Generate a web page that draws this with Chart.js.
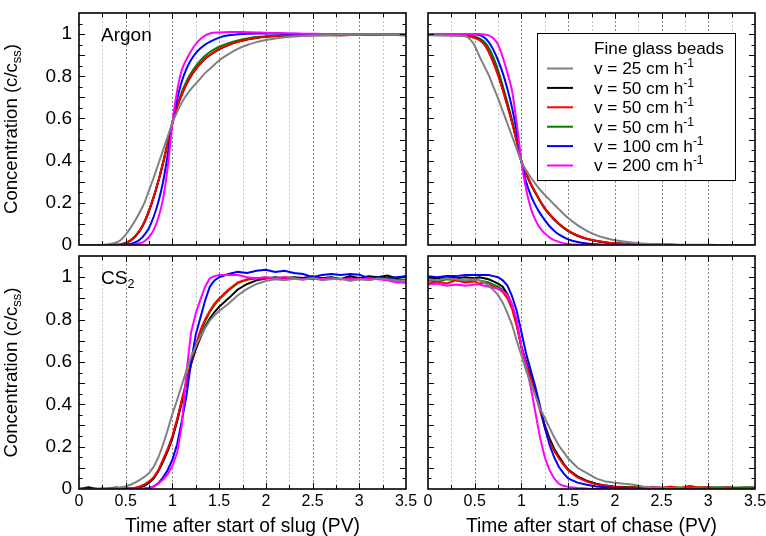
<!DOCTYPE html>
<html>
<head>
<meta charset="utf-8">
<script src="https://cdn.jsdelivr.net/npm/chart.js@4.4.1/dist/chart.umd.min.js"></script>
<style>
  html, body { margin: 0; padding: 0; background: #fff; }
  #wrap { position: relative; width: 766px; height: 536px; overflow: hidden; }
  #wrap canvas { position: absolute; left: 0; top: 0; }
</style>
</head>
<body>
<div id="wrap">
  <canvas id="tl" width="766" height="536"></canvas>
  <canvas id="tr" width="766" height="536"></canvas>
  <canvas id="bl" width="766" height="536"></canvas>
  <canvas id="br" width="766" height="536"></canvas>
</div>
<script>
// x positions (pore volumes) for the argon and CS2 curves
const argonX = [0, 0.2, 0.3, 0.4, 0.45, 0.5, 0.55, 0.6, 0.65, 0.7, 0.75, 0.8, 0.85, 0.9, 0.95, 1.0, 1.05, 1.1, 1.15, 1.2, 1.25, 1.3, 1.35, 1.4, 1.5, 1.6, 1.7, 1.8, 1.9, 2.0, 2.2, 2.4, 2.6, 2.8, 3.0, 3.2, 3.5];
const cs2X = [0, 0.1, 0.2, 0.3, 0.4, 0.5, 0.55, 0.6, 0.65, 0.7, 0.75, 0.8, 0.85, 0.9, 0.95, 1.0, 1.05, 1.1, 1.15, 1.2, 1.25, 1.3, 1.35, 1.4, 1.45, 1.5, 1.6, 1.7, 1.8, 1.9, 2.0, 2.1, 2.2, 2.3, 2.4, 2.5, 2.6, 2.7, 2.8, 2.9, 3.0, 3.1, 3.2, 3.3, 3.4, 3.5];

// pore water velocities (cm/h), legend order
const speeds = [25, 50, 50, 50, 100, 200];

// Argon, slug
const argonSlug25  = [0, 0, 0.002, 0.012, 0.025, 0.05, 0.08, 0.115, 0.155, 0.2, 0.26, 0.32, 0.385, 0.45, 0.515, 0.58, 0.63, 0.675, 0.71, 0.74, 0.765, 0.79, 0.815, 0.835, 0.875, 0.905, 0.93, 0.948, 0.962, 0.972, 0.985, 0.991, 0.995, 0.997, 0.997, 0.998, 0.996];
const argonSlug50a = [0, 0, 0, 0.001, 0.003, 0.01, 0.021, 0.04, 0.068, 0.108, 0.163, 0.228, 0.303, 0.388, 0.483, 0.578, 0.652, 0.712, 0.762, 0.802, 0.833, 0.86, 0.883, 0.9, 0.928, 0.948, 0.963, 0.974, 0.982, 0.987, 0.992, 0.994, 0.995, 0.995, 0.996, 0.996, 0.995];
const argonSlug50b = [0, 0, 0, 0.001, 0.003, 0.01, 0.022, 0.042, 0.07, 0.11, 0.165, 0.23, 0.305, 0.39, 0.485, 0.58, 0.655, 0.715, 0.765, 0.805, 0.835, 0.862, 0.885, 0.902, 0.93, 0.95, 0.964, 0.975, 0.983, 0.988, 0.993, 0.995, 0.996, 0.995, 0.996, 0.997, 0.995];
const argonSlug50c = [0, 0, 0, 0.001, 0.003, 0.01, 0.02, 0.04, 0.068, 0.108, 0.163, 0.228, 0.305, 0.392, 0.488, 0.582, 0.66, 0.725, 0.775, 0.815, 0.848, 0.875, 0.897, 0.915, 0.94, 0.957, 0.97, 0.979, 0.986, 0.99, 0.994, 0.996, 0.997, 0.997, 0.998, 0.998, 0.997];
const argonSlug100 = [0, 0, 0, 0, 0.001, 0.002, 0.005, 0.012, 0.025, 0.048, 0.082, 0.135, 0.205, 0.3, 0.43, 0.58, 0.69, 0.775, 0.835, 0.878, 0.91, 0.933, 0.95, 0.963, 0.983, 0.994, 0.999, 1.002, 1.003, 1.003, 1.002, 1.001, 1.0, 1.0, 1.0, 1.0, 1.0];
const argonSlug200 = [0, 0, 0, 0, 0, 0, 0.001, 0.003, 0.008, 0.018, 0.038, 0.072, 0.13, 0.22, 0.37, 0.58, 0.73, 0.83, 0.88, 0.92, 0.953, 0.977, 0.993, 1.003, 1.008, 1.01, 1.01, 1.009, 1.008, 1.006, 1.004, 1.002, 1.001, 1.0, 1.0, 1.0, 1.0];

// Argon, chase
const argonChase25  = [0.995, 0.993, 0.992, 0.99, 0.975, 0.945, 0.895, 0.85, 0.805, 0.75, 0.695, 0.635, 0.575, 0.515, 0.455, 0.395, 0.355, 0.32, 0.29, 0.262, 0.237, 0.215, 0.192, 0.17, 0.128, 0.094, 0.067, 0.047, 0.033, 0.023, 0.011, 0.005, 0.002, 0.001, 0.001, 0, 0];
const argonChase50a = [0.998, 0.996, 0.995, 0.993, 0.989, 0.983, 0.973, 0.953, 0.917, 0.867, 0.807, 0.737, 0.662, 0.582, 0.492, 0.396, 0.34, 0.29, 0.249, 0.209, 0.174, 0.146, 0.122, 0.101, 0.067, 0.044, 0.029, 0.019, 0.012, 0.008, 0.004, 0.002, 0.001, 0, 0, 0, 0];
const argonChase50b = [0.998, 0.995, 0.995, 0.992, 0.988, 0.982, 0.972, 0.952, 0.915, 0.865, 0.805, 0.735, 0.66, 0.58, 0.49, 0.395, 0.34, 0.29, 0.25, 0.21, 0.175, 0.147, 0.123, 0.102, 0.068, 0.045, 0.03, 0.02, 0.013, 0.008, 0.004, 0.002, 0.001, 0, 0, 0, 0];
const argonChase50c = [0.998, 0.997, 0.996, 0.994, 0.991, 0.987, 0.98, 0.965, 0.935, 0.89, 0.83, 0.755, 0.675, 0.59, 0.495, 0.397, 0.338, 0.288, 0.246, 0.207, 0.172, 0.144, 0.12, 0.1, 0.066, 0.044, 0.029, 0.019, 0.012, 0.008, 0.004, 0.002, 0.001, 0, 0, 0, 0];
const argonChase100 = [1.0, 1.0, 1.0, 1.0, 0.999, 0.998, 0.995, 0.985, 0.962, 0.925, 0.875, 0.815, 0.74, 0.65, 0.535, 0.395, 0.3, 0.235, 0.188, 0.15, 0.118, 0.09, 0.068, 0.05, 0.027, 0.014, 0.007, 0.003, 0.001, 0, 0, 0, 0, 0, 0, 0, 0];
const argonChase200 = [1.0, 1.0, 1.0, 1.0, 1.0, 1.0, 1.0, 0.998, 0.994, 0.98, 0.95, 0.89, 0.815, 0.73, 0.575, 0.395, 0.265, 0.175, 0.118, 0.08, 0.055, 0.036, 0.023, 0.015, 0.005, 0.001, 0, 0, 0, 0, 0, 0, 0, 0, 0, 0, 0];

// CS2, slug
const cs2Slug25  = [0, 0, 0.002, 0.003, 0.005, 0.012, 0.02, 0.03, 0.043, 0.057, 0.075, 0.105, 0.15, 0.21, 0.28, 0.355, 0.42, 0.49, 0.56, 0.625, 0.675, 0.72, 0.76, 0.795, 0.82, 0.84, 0.875, 0.915, 0.945, 0.968, 0.982, 0.99, 0.985, 0.992, 0.988, 0.996, 0.985, 0.99, 0.994, 0.982, 0.99, 0.986, 0.994, 0.99, 0.984, 0.98];
const cs2Slug50a = [0, 0.008, 0, 0.002, 0.007, 0.001, 0.002, 0.004, 0.008, 0.015, 0.03, 0.05, 0.085, 0.13, 0.18, 0.24, 0.32, 0.41, 0.5, 0.59, 0.66, 0.715, 0.765, 0.805, 0.835, 0.86, 0.9, 0.942, 0.968, 0.985, 0.994, 1.0, 0.995, 1.0, 0.996, 1.004, 0.995, 1.0, 0.99, 1.005, 0.995, 1.004, 1.0, 1.008, 0.995, 1.004];
const cs2Slug50b = [0, 0, 0, 0, 0.001, 0.002, 0.003, 0.006, 0.012, 0.022, 0.036, 0.056, 0.09, 0.14, 0.19, 0.25, 0.33, 0.42, 0.51, 0.6, 0.68, 0.75, 0.8, 0.842, 0.875, 0.9, 0.942, 0.975, 0.99, 0.995, 0.998, 0.992, 1.0, 0.995, 0.99, 0.998, 0.992, 0.996, 0.99, 0.994, 0.992, 0.988, 0.994, 0.99, 0.984, 0.972];
const cs2Slug50c = [0, 0, 0, 0, 0.001, 0.002, 0.003, 0.005, 0.01, 0.019, 0.033, 0.053, 0.087, 0.135, 0.186, 0.247, 0.325, 0.415, 0.505, 0.593, 0.67, 0.738, 0.79, 0.835, 0.868, 0.895, 0.937, 0.972, 0.988, 0.995, 0.997, 0.994, 0.998, 0.992, 0.996, 0.99, 0.995, 0.998, 0.992, 0.996, 0.99, 0.995, 0.992, 0.996, 0.99, 0.988];
const cs2Slug100 = [0, 0, 0, 0, 0, 0, 0, 0, 0.001, 0.002, 0.005, 0.012, 0.028, 0.055, 0.09, 0.14, 0.21, 0.32, 0.44, 0.6, 0.73, 0.81, 0.89, 0.955, 0.985, 1.0, 1.015, 1.025, 1.02, 1.03, 1.035, 1.025, 1.03, 1.02, 1.015, 1.0, 1.01, 1.015, 1.01, 1.015, 1.012, 0.995, 1.0, 0.995, 1.0, 1.005];
const cs2Slug200 = [0.003, 0, 0, 0, 0, 0, 0, 0, 0.001, 0.002, 0.005, 0.012, 0.025, 0.045, 0.07, 0.11, 0.17, 0.3, 0.55, 0.74, 0.83, 0.895, 0.955, 0.995, 1.005, 1.01, 1.01, 1.01, 1.0, 0.995, 1.0, 0.995, 1.0, 0.995, 0.99, 0.995, 0.99, 0.995, 0.99, 0.992, 0.99, 0.995, 0.99, 0.985, 0.975, 0.975];

// CS2, chase
const cs2Chase25  = [0.99, 0.985, 0.995, 0.99, 0.985, 0.99, 0.985, 0.975, 0.96, 0.94, 0.915, 0.88, 0.83, 0.775, 0.7, 0.63, 0.56, 0.5, 0.44, 0.38, 0.335, 0.29, 0.245, 0.205, 0.175, 0.145, 0.1, 0.075, 0.05, 0.035, 0.03, 0.025, 0.02, 0.012, 0.008, 0.006, 0.004, 0.003, 0.002, 0.002, 0.001, 0.001, 0.001, 0, 0, 0];
const cs2Chase50a = [0.99, 0.995, 1.0, 0.995, 1.0, 0.995, 1.0, 0.995, 0.99, 0.98, 0.97, 0.955, 0.92, 0.87, 0.78, 0.67, 0.6, 0.53, 0.46, 0.38, 0.3, 0.24, 0.19, 0.155, 0.12, 0.092, 0.06, 0.038, 0.025, 0.016, 0.01, 0.008, 0.006, 0.005, 0.004, 0.005, 0.003, 0.004, 0.002, 0.003, 0.002, 0.003, 0.002, 0.002, 0.001, 0.002];
const cs2Chase50b = [0.97, 0.98, 0.97, 0.985, 0.975, 0.98, 0.97, 0.975, 0.965, 0.955, 0.945, 0.93, 0.9, 0.85, 0.77, 0.67, 0.59, 0.52, 0.45, 0.37, 0.29, 0.225, 0.18, 0.145, 0.115, 0.088, 0.055, 0.035, 0.022, 0.015, 0.01, 0.006, 0.008, 0.004, 0.01, 0.005, 0.012, 0.004, 0.015, 0.006, 0.01, 0.004, 0.008, 0.003, 0.006, 0.004];
const cs2Chase50c = [0.985, 0.98, 0.99, 0.985, 0.98, 0.99, 0.985, 0.98, 0.975, 0.965, 0.955, 0.94, 0.91, 0.86, 0.775, 0.67, 0.595, 0.525, 0.455, 0.375, 0.295, 0.232, 0.185, 0.15, 0.118, 0.09, 0.058, 0.037, 0.024, 0.016, 0.012, 0.01, 0.009, 0.008, 0.008, 0.007, 0.008, 0.007, 0.008, 0.008, 0.007, 0.008, 0.008, 0.007, 0.008, 0.008];
const cs2Chase100 = [1.005, 1.0, 1.005, 1.005, 1.01, 1.01, 1.01, 1.01, 1.01, 1.005, 1.0, 0.985, 0.96, 0.91, 0.84, 0.74, 0.64, 0.56, 0.48, 0.39, 0.29, 0.21, 0.15, 0.105, 0.075, 0.05, 0.03, 0.02, 0.012, 0.008, 0.005, 0.003, 0.002, 0.001, 0, 0, 0, 0, 0, 0, 0, 0, 0, 0, 0, 0];
const cs2Chase200 = [0.965, 0.97, 0.96, 0.965, 0.96, 0.965, 0.965, 0.96, 0.955, 0.95, 0.945, 0.935, 0.915, 0.87, 0.8, 0.67, 0.58, 0.48, 0.36, 0.24, 0.15, 0.09, 0.05, 0.025, 0.015, 0.01, 0.005, 0.002, 0, 0, 0, 0, 0, 0, 0, 0, 0, 0, 0, 0, 0, 0, 0, 0, 0, 0];

const xTickValues = [0, 0.5, 1, 1.5, 2, 2.5, 3, 3.5];
const yTickValues = [0, 0.2, 0.4, 0.6, 0.8, 1];

const FONT = '"Liberation Sans", Arial, Helvetica, sans-serif';
const colors = ['#808080', '#000000', '#ff0000', '#008000', '#0000ff', '#ff00ff'];
// draw order: lower number ends up on top
const drawOrder = [0, 4, 3, 5, 2, 1];

Chart.defaults.font.family = FONT;
Chart.defaults.color = '#000';

function drawRich(ctx, parts, x, y, align) {
  let w = 0;
  parts.forEach(p => {
    ctx.font = p.size + 'px ' + FONT;
    p.w = ctx.measureText(p.t).width;
    w += p.w;
  });
  let cx = align === 'center' ? x - w / 2 : x;
  parts.forEach(p => {
    ctx.font = p.size + 'px ' + FONT;
    ctx.fillText(p.t, cx, y + (p.dy || 0));
    cx += p.w;
  });
}

const framePlugin = {
  id: 'frame',
  beforeDatasetsDraw(chart) {
    const {ctx, chartArea: a, scales: {x}} = chart;
    ctx.save();
    ctx.lineWidth = 1;
    for (let i = 1; i < 14; i++) {
      const px = Math.round(x.getPixelForValue(i * 0.25)) + 0.5;
      ctx.strokeStyle = i % 2 === 0 ? '#8a8a8a' : '#c8c8c8';
      ctx.setLineDash([2, 2]);
      ctx.beginPath();
      ctx.moveTo(px, a.top);
      ctx.lineTo(px, a.bottom);
      ctx.stroke();
    }
    ctx.restore();
  },
  afterDatasetsDraw(chart) {
    const {ctx, chartArea: a, scales: {x, y}} = chart;
    ctx.save();
    ctx.strokeStyle = '#000';
    ctx.lineWidth = 1;
    ctx.beginPath();
    for (let i = 1; i < 14; i++) {
      const px = Math.round(x.getPixelForValue(i * 0.25)) + 0.5;
      const len = i % 2 === 0 ? 6 : 4;
      ctx.moveTo(px, a.bottom); ctx.lineTo(px, a.bottom - len);
      ctx.moveTo(px, a.top); ctx.lineTo(px, a.top + len);
    }
    for (let i = 1; i < 22; i++) {
      const py = Math.round(y.getPixelForValue(i * 0.05)) + 0.5;
      const len = i % 2 === 0 ? 6 : 3.5;
      ctx.moveTo(a.left, py); ctx.lineTo(a.left + len, py);
      ctx.moveTo(a.right, py); ctx.lineTo(a.right - len, py);
    }
    ctx.stroke();
    ctx.lineWidth = 1.6;
    ctx.strokeRect(a.left, a.top, a.right - a.left, a.bottom - a.top);
    ctx.restore();
  },
  afterDraw(chart) {
    const o = chart.options.plugins.frame;
    const {ctx, chartArea: a} = chart;
    ctx.save();
    ctx.fillStyle = '#000';
    ctx.textBaseline = 'alphabetic';
    if (o.name) drawRich(ctx, o.name, a.left + 22, a.top + 28, 'left');
    if (o.yTitle) {
      ctx.translate(17, (a.top + a.bottom) / 2);
      ctx.rotate(-Math.PI / 2);
      drawRich(ctx, [
        {t: 'Concentration (c/c', size: 18.6},
        {t: 'ss', size: 13, dy: 4},
        {t: ')', size: 18.6}
      ], 0, 0, 'center');
      ctx.setTransform(1, 0, 0, 1, 0, 0);
    }
    if (o.xTitle) {
      drawRich(ctx, [{t: o.xTitle, size: 19.3}], (a.left + a.right) / 2, 532, 'center');
    }
    if (o.legend) {
      ctx.fillStyle = '#fff';
      ctx.fillRect(537, 33, 198, 147);
      ctx.strokeStyle = '#000';
      ctx.lineWidth = 1;
      ctx.strokeRect(537.5, 33.5, 198, 147);
      ctx.fillStyle = '#000';
      drawRich(ctx, [{t: 'Fine glass beads', size: 17.2}], 594, 54, 'left');
      chart.data.datasets.forEach((ds, i) => {
        const ly = 68.5 + i * 19.4;
        ctx.strokeStyle = ds.borderColor;
        ctx.lineWidth = 2;
        ctx.beginPath();
        ctx.moveTo(547, ly);
        ctx.lineTo(573, ly);
        ctx.stroke();
        ctx.fillStyle = '#000';
        drawRich(ctx, [
          {t: 'v = ' + speeds[i] + ' cm h', size: 17.2},
          {t: '-1', size: 12, dy: -7}
        ], 594, ly + 5.8, 'left');
      });
    }
    ctx.restore();
  }
};

function makePanel(id, box, xs, series, opts) {
  const yW = opts.showY ? 44 : 0;
  const xH = opts.showX ? 28 : 0;
  const datasets = series.map((s, i) => ({
    label: 'v = ' + speeds[i] + ' cm h-1',
    data: xs.map((x, k) => ({x: x, y: s[k]})),
    borderColor: colors[i],
    backgroundColor: colors[i],
    borderWidth: 2,
    pointRadius: 0,
    fill: false,
    order: drawOrder[i],
    cubicInterpolationMode: opts.smooth ? 'monotone' : 'default',
    tension: 0
  }));
  return new Chart(document.getElementById(id), {
    type: 'line',
    data: {datasets},
    options: {
      responsive: false,
      animation: false,
      devicePixelRatio: 1,
      layout: {
        padding: {
          left: box.left - yW,
          right: 766 - box.right,
          top: box.top,
          bottom: 536 - box.bottom - xH
        }
      },
      scales: {
        x: {
          type: 'linear',
          min: 0,
          max: 3.5,
          display: opts.showX,
          grid: {display: false, drawTicks: false},
          border: {display: false},
          afterBuildTicks: s => { s.ticks = xTickValues.map(v => ({value: v})); },
          afterFit: s => { s.height = xH; s.paddingLeft = 0; s.paddingRight = 0; },
          ticks: {
            padding: 3,
            maxRotation: 0,
            autoSkip: false,
            font: {size: 16},
            color: '#000',
            callback: v => String(Math.round(v * 10) / 10)
          }
        },
        y: {
          type: 'linear',
          min: 0,
          max: 1.1,
          display: opts.showY,
          grid: {display: false, drawTicks: false},
          border: {display: false},
          afterBuildTicks: s => { s.ticks = yTickValues.map(v => ({value: v})); },
          afterFit: s => { s.width = yW; s.paddingTop = 0; s.paddingBottom = 0; },
          ticks: {
            padding: 7,
            autoSkip: false,
            font: {size: 19},
            color: '#000',
            callback: v => String(Math.round(v * 10) / 10)
          }
        }
      },
      plugins: {
        legend: {display: false},
        tooltip: {enabled: false},
        frame: opts
      }
    },
    plugins: [framePlugin]
  });
}

makePanel('tl', {left: 79, right: 406, top: 13, bottom: 245}, argonX,
  [argonSlug25, argonSlug50a, argonSlug50b, argonSlug50c, argonSlug100, argonSlug200],
  {showX: false, showY: true, smooth: true, yTitle: true,
   name: [{t: 'Argon', size: 19}]});

makePanel('tr', {left: 428, right: 755, top: 13, bottom: 245}, argonX,
  [argonChase25, argonChase50a, argonChase50b, argonChase50c, argonChase100, argonChase200],
  {showX: false, showY: false, smooth: true, legend: true});

makePanel('bl', {left: 79, right: 406, top: 256, bottom: 489}, cs2X,
  [cs2Slug25, cs2Slug50a, cs2Slug50b, cs2Slug50c, cs2Slug100, cs2Slug200],
  {showX: true, showY: true, smooth: false, yTitle: true,
   xTitle: 'Time after start of slug (PV)',
   name: [{t: 'CS', size: 19}, {t: '2', size: 12.5, dy: 4}]});

makePanel('br', {left: 428, right: 755, top: 256, bottom: 489}, cs2X,
  [cs2Chase25, cs2Chase50a, cs2Chase50b, cs2Chase50c, cs2Chase100, cs2Chase200],
  {showX: true, showY: false, smooth: false,
   xTitle: 'Time after start of chase (PV)'});
</script>
</body>
</html>
